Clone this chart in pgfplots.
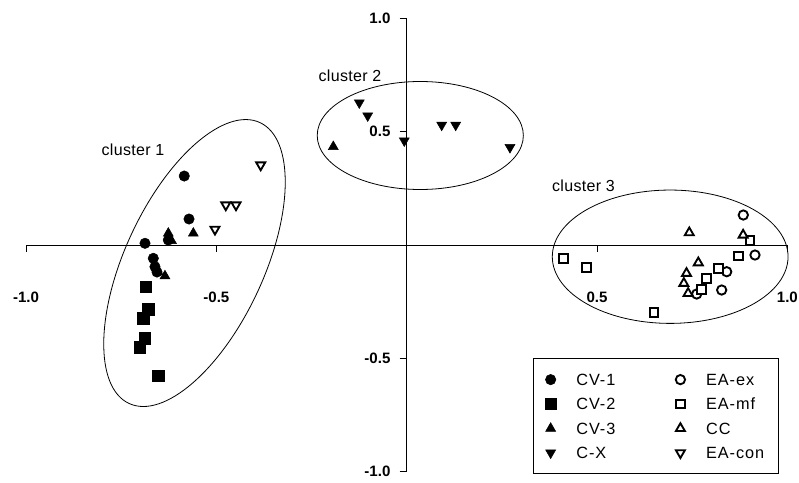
\documentclass[border=0pt]{standalone}
\usepackage{fontspec}
\setmainfont{Liberation Sans}
\newfontfamily\legfont[LetterSpace=6]{Liberation Sans}
\newfontfamily\clfont[LetterSpace=2]{Liberation Sans}
\usepackage{pgfplots}
\pgfplotsset{compat=1.18}

\pgfplotsset{
  lgd/.style={legend image code/.code={%
      \draw[##1, overlay] plot coordinates {(0pt,0pt)};
      \path[draw=none, fill=none] (-4.35pt,-4pt) rectangle (4.35pt,4pt);}},
  fillmk/.style={only marks, mark options={draw=black, fill=black, line width=0.4pt, #1}, lgd},
  fillmk/.default={},
  openmk/.style={only marks, mark options={draw=black, fill=white, line width=1.4pt, #1}, lgd},
  openmk/.default={},
}

\begin{document}
\begin{tikzpicture}
\begin{axis}[
  x=285.5pt, y=170.14pt,
  xmin=-1, xmax=1, ymin=-1, ymax=1,
  axis lines=middle,
  axis line style={line width=0.6pt, -},
  clip=false,
  xtick={-1,-0.5,0.5,1}, ytick={-1,-0.5,0.5,1},
  xticklabels={-1.0,-0.5,0.5,1.0},
  yticklabels={-1.0,-0.5,0.5,1.0},
  tick align=outside,
  major tick length=5.25pt,
  tick style={line width=0.6pt, black},
  ticklabel style={font=\fontsize{11.3}{13}\selectfont\bfseries, inner sep=0pt},
  xticklabel style={anchor=center, yshift=-34.4pt},
  yticklabel style={anchor=east, xshift=-6.75pt},
  legend columns=2,
  legend cell align=left,
  legend style={at={(axis cs:0.333,-0.5)}, anchor=north west,
    draw=black, line width=0.6pt,
    font=\legfont\fontsize{12.2}{14}\selectfont,
    inner xsep=8.25pt, inner ysep=10.9pt, row sep=8.8pt,
    nodes={inner sep=0pt, text height=9pt, text depth=0.5pt, text width=46pt},
    /tikz/every odd column/.append style={column sep=14.9pt},
    /tikz/every even column/.append style={column sep=27.7pt}},
]
% CV-1
\addplot[fillmk, mark=*, mark size=3.9pt] table {
x y
-0.5843 0.3037
-0.5718 0.1142
-0.6874 0.0071
-0.6262 0.0216
-0.6656 -0.0591
-0.6612 -0.0961
-0.6559 -0.1195
-0.6919 -0.3280
};
\addlegendentry{CV-1}
% EA-ex
\addplot[openmk, mark=o, mark size=3.5pt] table {
x y
0.8842 0.1318
0.9149 -0.0445
0.8406 -0.1181
0.8274 -0.1988
0.7618 -0.2164
};
\addlegendentry{EA-ex}
% CV-2
\addplot[fillmk, mark=square*, mark size=4.2pt] table {
x y
-0.6856 -0.1840
-0.6787 -0.2840
-0.6919 -0.3236
-0.6875 -0.4117
-0.7006 -0.4514
-0.6525 -0.5779
};
\addlegendentry{CV-2}
% EA-mf
\addplot[openmk, mark=square*, mark size=3.3pt] table {
x y
0.4113 -0.0591
0.4728 -0.1005
0.6496 -0.2989
0.9018 0.0185
0.8710 -0.0489
0.8185 -0.1032
0.7880 -0.1473
0.7749 -0.1957
};
\addlegendentry{EA-mf}
% CV-3
\addplot[fillmk, mark=triangle*, mark size=4.3pt] table {
x y
-0.6262 0.0511
-0.6178 0.0185
-0.5605 0.0511
-0.6532 -0.1195
-0.6350 -0.1370
-0.1928 0.4329
};
\addlegendentry{CV-3}
% CC
\addplot[openmk, mark=triangle*, mark size=3.9pt] table {
x y
0.7423 0.0538
0.8837 0.0436
0.7660 -0.0785
0.7350 -0.1252
0.7280 -0.1693
0.7392 -0.2134
};
\addlegendentry{CC}
% C-X
\addplot[fillmk={rotate=180}, mark=triangle*, mark size=4.3pt] table {
x y
-0.1245 0.6268
-0.1024 0.5695
-0.0063 0.4593
0.0919 0.5285
0.1287 0.5285
0.2713 0.4302
};
\addlegendentry{C-X}
% EA-con
\addplot[openmk={rotate=180}, mark=triangle*, mark size=3.9pt] table {
x y
-0.3835 0.3522
-0.4752 0.1759
-0.4484 0.1759
-0.5036 0.0688
};
\addlegendentry{EA-con}

\draw[line width=0.6pt, rotate around={65:(axis cs:-0.5574,-0.0798)}]
  (axis cs:-0.5574,-0.0798) ellipse [x radius=116.2pt, y radius=52pt];
\draw[line width=0.6pt] (axis cs:0.0357,0.4823) ellipse [x radius=77.3pt, y radius=40.5pt];
\draw[line width=0.6pt] (axis cs:0.6921,-0.052) ellipse [x radius=88.4pt, y radius=50pt];

\node[font=\clfont\fontsize{12}{14}\selectfont] at (axis cs:-0.719,0.4183) {cluster 1};
\node[font=\clfont\fontsize{12}{14}\selectfont] at (axis cs:-0.1489,0.7446) {cluster 2};
\node[font=\clfont\fontsize{12}{14}\selectfont] at (axis cs:0.4644,0.2596) {cluster 3};

\coordinate (bbsw) at (axis cs:-1.0683,-1.0452);
\coordinate (bbne) at (axis cs:1.0305,1.0796);
\end{axis}
\pgfresetboundingbox
\path[use as bounding box] (bbsw) rectangle (bbne);
\end{tikzpicture}
\end{document}
